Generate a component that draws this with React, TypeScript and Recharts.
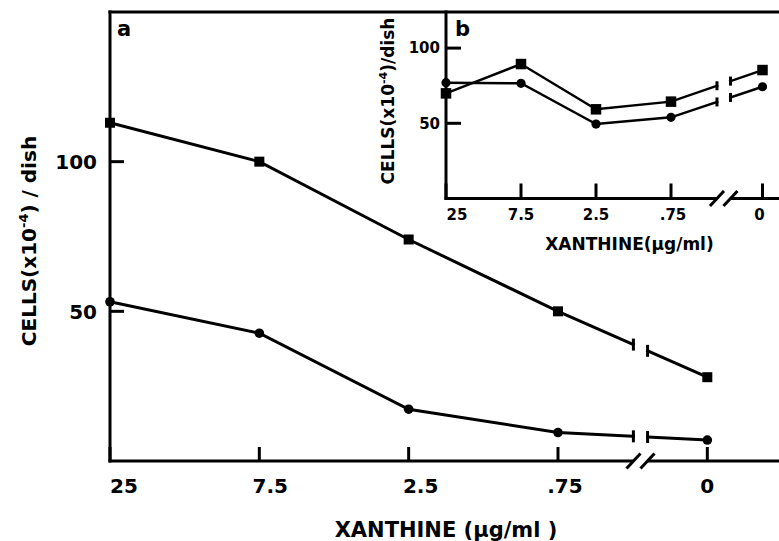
import React from "react";
import { LineChart, Line, XAxis, YAxis, ReferenceLine, ReferenceDot } from "recharts";

// xanthine doses, left to right
const doses = ["25", "7.5", "2.5", ".75", "0"];

// panel a
const mainSquares = [113, 100, 74, 50, 28];
const mainCircles = [53.2, 42.7, 17.3, 9.5, 7];
const mainYTicks = [50, 100];

// panel b (inset)
const insetSquares = [69.9, 89.4, 59.3, 64.4, 85.4];
const insetCircles = [77, 76.6, 49.5, 54, 74.3];
const insetYTicks = [50, 100];

const FONT = "'DejaVu Sans', sans-serif";

type Cfg = {
  id: string;
  xMax: number;
  yMax: number;
  zeroPos: number;
  breakFrom: number;
  breakTo: number;
  font: number;
  tickLen: number;
  yGap: number;
  xDy: number;
  nudge: number[];
  lineW: number;
  sq: number;
  r: number;
  capH: number;
  slashGap: number;
};

const MAIN: Cfg = {
  id: "a", xMax: 4.48, yMax: 150, zeroPos: 4, breakFrom: 3.505, breakTo: 3.6,
  font: 20, tickLen: 14, yGap: 13, xDy: 32, nudge: [14, 11, 12, 7, 0],
  lineW: 3, sq: 10, r: 4.8, capH: 12, slashGap: 7,
};
const INSET: Cfg = {
  id: "b", xMax: 4.44, yMax: 124, zeroPos: 4.22, breakFrom: 3.613, breakTo: 3.793,
  font: 15, tickLen: 15, yGap: 6, xDy: 21.5, nudge: [11, 0, 0, 2, -3],
  lineW: 2.4, sq: 10.5, r: 4.6, capH: 9, slashGap: 6.75,
};

const buildRows = (sq: number[], ci: number[], zeroPos: number) =>
  doses.map((d, i) => ({ dose: d, pos: i === doses.length - 1 ? zeroPos : i, sq: sq[i], ci: ci[i] }));

const mainRows = buildRows(mainSquares, mainCircles, MAIN.zeroPos);
const insetRows = buildRows(insetSquares, insetCircles, INSET.zeroPos);

const lastPt: Record<string, { x: number; y: number; pos: number }> = {};

function marker(p: any, kind: "square" | "circle", cfg: Cfg) {
  const { cx, cy, index, payload, points } = p;
  const key = `${cfg.id}-${kind}-${index}`;
  if (cx == null || cy == null) return <g key={key} />;
  const sid = `${cfg.id}-${kind}`;
  let prev: { x: number; y: number; pos: number } | undefined;
  if (points && points[index - 1]) {
    const q = points[index - 1];
    prev = { x: q.x, y: q.y, pos: q.payload.pos };
  } else {
    prev = lastPt[sid];
  }
  lastPt[sid] = { x: cx, y: cy, pos: payload.pos };

  let brk = null;
  if (index === doses.length - 1 && prev) {
    const t = (v: number) => (v - prev!.pos) / (payload.pos - prev!.pos);
    const ta = t(cfg.breakFrom);
    const tb = t(cfg.breakTo);
    const xa = prev.x + ta * (cx - prev.x);
    const ya = prev.y + ta * (cy - prev.y);
    const xb = prev.x + tb * (cx - prev.x);
    const yb = prev.y + tb * (cy - prev.y);
    const h = cfg.capH / 2;
    brk = (
      <g>
        <line x1={xa + 1.5} y1={ya} x2={xb - 1.5} y2={yb} stroke="#fff" strokeWidth={cfg.lineW + 4} />
        <line x1={xa} y1={ya - h} x2={xa} y2={ya + h} stroke="#000" strokeWidth={3} />
        <line x1={xb} y1={yb - h} x2={xb} y2={yb + h} stroke="#000" strokeWidth={3} />
      </g>
    );
  }
  const mark =
    kind === "square" ? (
      <rect x={cx - cfg.sq / 2} y={cy - cfg.sq / 2} width={cfg.sq} height={cfg.sq} fill="#000" />
    ) : (
      <circle cx={cx} cy={cy} r={cfg.r} fill="#000" />
    );
  return (
    <g key={key}>
      {brk}
      {mark}
    </g>
  );
}

function XTick(props: any) {
  const { x, y, payload, cfg, rows } = props;
  const i = rows.findIndex((r: any) => r.pos === payload.value);
  return (
    <g>
      <line x1={x} x2={x} y1={y} y2={y - cfg.tickLen} stroke="#000" strokeWidth={3} />
      <text x={x + (cfg.nudge[i] || 0)} y={y + cfg.xDy} textAnchor="middle" fontSize={cfg.font}
        fontWeight="bold" fontFamily={FONT} fill="#000">
        {doses[i]}
      </text>
    </g>
  );
}

function YTick(props: any) {
  const { x, y, payload, cfg } = props;
  return (
    <g>
      <line x1={x} x2={x + cfg.tickLen} y1={y} y2={y} stroke="#000" strokeWidth={3} />
      <text x={x - cfg.yGap} y={y} dy="0.36em" textAnchor="end" fontSize={cfg.font}
        fontWeight="bold" fontFamily={FONT} fill="#000">
        {payload.value}
      </text>
    </g>
  );
}

function AxisBreak(props: any) {
  const { cx, cy, g } = props;
  if (cx == null) return <g />;
  return (
    <g>
      <rect x={cx - g} y={cy - 3} width={2 * g} height={6} fill="#fff" />
      <line x1={cx - g - 7} y1={cy + 7.5} x2={cx - g + 7} y2={cy - 7.5} stroke="#000" strokeWidth={3} />
      <line x1={cx + g - 7} y1={cy + 7.5} x2={cx + g + 7} y2={cy - 7.5} stroke="#000" strokeWidth={3} />
    </g>
  );
}

const axisStroke = { stroke: "#000", strokeWidth: 3, strokeLinecap: "square" as const };

function Panel({ cfg, rows, yTicks, margin }: { cfg: Cfg; rows: any[]; yTicks: number[]; margin: any }) {
  return (
    <LineChart width={779} height={541} data={rows} margin={margin}>
      <XAxis dataKey="pos" type="number" domain={[0, cfg.xMax]} ticks={rows.map((r) => r.pos)}
        interval={0} height={30} axisLine={axisStroke} tickLine={false} tickSize={0} tickMargin={0}
        tick={(p: any) => <XTick {...p} cfg={cfg} rows={rows} />} />
      <YAxis type="number" domain={[0, cfg.yMax]} ticks={yTicks} interval={0} width={60}
        axisLine={axisStroke} tickLine={false} tickSize={0} tickMargin={0}
        tick={(p: any) => <YTick {...p} cfg={cfg} />} />
      {cfg.id === "a" && (
        <ReferenceLine y={cfg.yMax} stroke="#000" strokeWidth={3} strokeLinecap="square" ifOverflow="visible" />
      )}
      <Line type="linear" dataKey="sq" stroke="#000" strokeWidth={cfg.lineW} isAnimationActive={false}
        dot={(p: any) => marker(p, "square", cfg)} activeDot={false} />
      <Line type="linear" dataKey="ci" stroke="#000" strokeWidth={cfg.lineW} isAnimationActive={false}
        dot={(p: any) => marker(p, "circle", cfg)} activeDot={false} />
      <ReferenceDot x={(cfg.breakFrom + cfg.breakTo) / 2} y={0} r={1} ifOverflow="visible"
        zIndex={1000} shape={(p: any) => <AxisBreak {...p} g={cfg.slashGap} />} />
    </LineChart>
  );
}

const txt = { fontFamily: FONT, fontWeight: "bold" as const, fill: "#000" };

export default function App() {
  const layer: React.CSSProperties = { position: "absolute", left: 0, top: 0 };
  return (
    <div style={{ position: "absolute", left: 0, top: 0, width: 779, height: 541, background: "#fff", overflow: "hidden" }}>
      <div style={layer}>
        <Panel cfg={MAIN} rows={mainRows} yTicks={mainYTicks}
          margin={{ top: 12, right: 0, bottom: 50, left: 50 }} />
      </div>
      <div style={layer}>
        <Panel cfg={INSET} rows={insetRows} yTicks={insetYTicks}
          margin={{ top: 12, right: 0, bottom: 312.5, left: 386 }} />
      </div>
      <svg width={779} height={541} style={{ ...layer, pointerEvents: "none" }}>
        <text x={117} y={36} fontSize={21} {...txt}>a</text>
        <text x={455} y={36} fontSize={21} {...txt}>b</text>
        <text transform="translate(36,241) rotate(-90)" textAnchor="middle" fontSize={20} {...txt}>
          CELLS(x10<tspan dy={-8} fontSize={13}>-4</tspan>
          <tspan dy={8}>) / dish</tspan>
        </text>
        <text x={446} y={537} textAnchor="middle" fontSize={21} {...txt}>XANTHINE (µg/ml )</text>
        <text transform="translate(394,101) rotate(-90)" textAnchor="middle" fontSize={17} {...txt}>
          CELLS(x10<tspan dy={-7} fontSize={11}>-4</tspan>
          <tspan dy={7}>)/dish</tspan>
        </text>
        <text x={629.5} y={250} textAnchor="middle" fontSize={17} {...txt}>XANTHINE(µg/ml)</text>
      </svg>
    </div>
  );
}
